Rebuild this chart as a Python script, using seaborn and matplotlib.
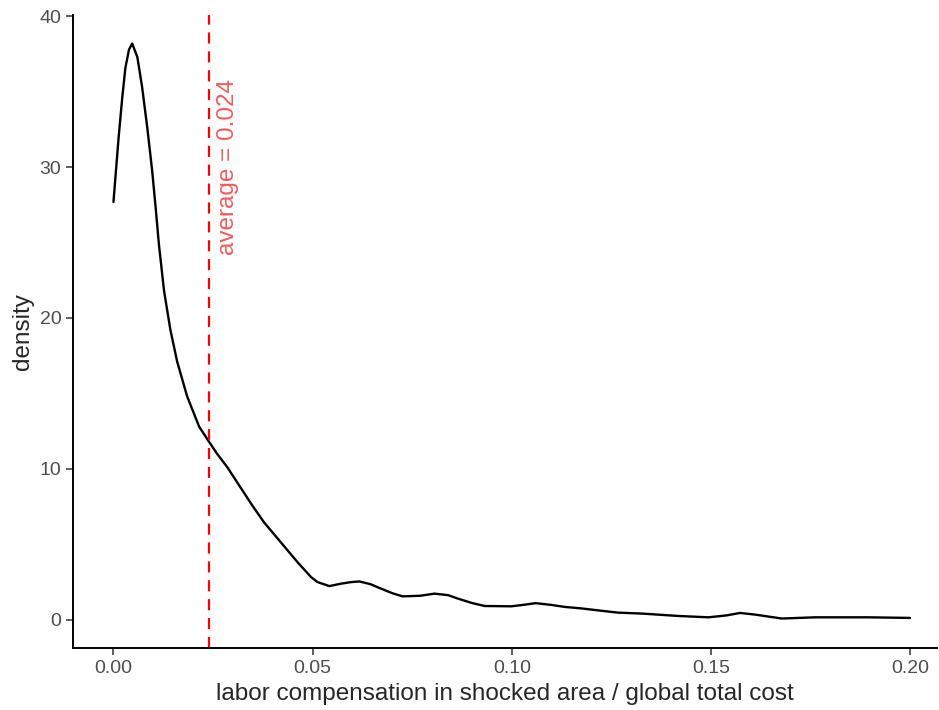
import pandas as pd
import numpy as np
import matplotlib
matplotlib.use("Agg")
import matplotlib.pyplot as plt
import seaborn as sns

# density curve
share = [0.0000, 0.0013, 0.0022, 0.0030, 0.0039, 0.0047, 0.0060, 0.0072, 0.0085,
         0.0097, 0.0106, 0.0114, 0.0127, 0.0143, 0.0160, 0.0185, 0.0215, 0.0236,
         0.0260, 0.0286, 0.0319, 0.0349, 0.0378, 0.0420, 0.0462, 0.0496, 0.0512,
         0.0542, 0.0571, 0.0595, 0.0617, 0.0645, 0.0672, 0.0700, 0.0726, 0.0770,
         0.0806, 0.0840, 0.0865, 0.0900, 0.0932, 0.0999, 0.1030, 0.1060, 0.1100,
         0.1133, 0.1175, 0.1220, 0.1267, 0.1326, 0.1418, 0.1494, 0.1540, 0.1573,
         0.1611, 0.1678, 0.1762, 0.1896, 0.2000]
density = [27.7, 32.0, 34.6, 36.6, 37.8, 38.2, 37.3, 35.3, 32.6,
           29.8, 27.3, 24.9, 21.8, 19.2, 17.1, 14.8, 12.8, 11.95,
           11.0, 10.1, 8.76, 7.55, 6.45, 5.13, 3.81, 2.82, 2.49,
           2.22, 2.38, 2.48, 2.53, 2.35, 2.05, 1.75, 1.54, 1.58,
           1.72, 1.62, 1.39, 1.10, 0.90, 0.88, 0.98, 1.09, 0.97,
           0.84, 0.74, 0.60, 0.46, 0.40, 0.24, 0.15, 0.28, 0.44,
           0.33, 0.07, 0.15, 0.15, 0.11]
avg_share = 0.024

df = pd.DataFrame({"share": share, "density": density})

sns.set_style("ticks")
plt.rcParams["font.family"] = ["Liberation Sans", "DejaVu Sans"]

fig = plt.figure(figsize=(9.39, 7.10), dpi=100)
ax = fig.add_axes([0.078, 0.087, 0.920, 0.892])

sns.lineplot(data=df, x="share", y="density", color="black", linewidth=1.7, ax=ax)
ax.axvline(avg_share, color="red", linestyle=(0, (5, 3.5)), linewidth=1.6)
ax.text(avg_share + 0.0047, 30, "average = 0.024", rotation=90, color="#F04848",
        fontsize=17.5, ha="center", va="center", alpha=0.9)

ax.set_xlim(-0.0101, 0.2068)
ax.set_ylim(-1.9, 40.1)
ax.set_xticks([0.00, 0.05, 0.10, 0.15, 0.20])
ax.set_xticklabels(["0.00", "0.05", "0.10", "0.15", "0.20"])
ax.set_yticks([0, 10, 20, 30, 40])
ax.tick_params(labelsize=14, labelcolor="#4D4D4D", length=5, width=1.1, color="#333333")
ax.set_xlabel("labor compensation in shocked area / global total cost", fontsize=17.5)
ax.set_ylabel("density", fontsize=17.5)
sns.despine(ax=ax)
for s in ["left", "bottom"]:
    ax.spines[s].set_linewidth(1.4)
    ax.spines[s].set_color("black")

fig.savefig("out.png", dpi=100)
